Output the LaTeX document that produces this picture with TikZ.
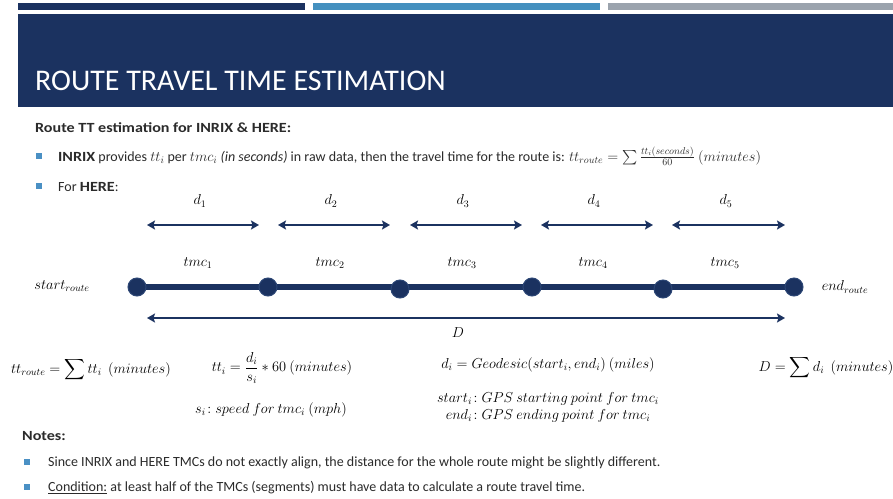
\documentclass[tikz,border=0pt]{standalone}
\usepackage{fontspec}
\setmainfont{Carlito}
\usepackage{amsmath}
\usetikzlibrary{arrows.meta,backgrounds}
\definecolor{navy}{HTML}{1B3260}
\definecolor{navyedge}{HTML}{2C4675}
\definecolor{barblue}{HTML}{4490BF}
\definecolor{bargray}{HTML}{9BA3AD}
\definecolor{bulletblue}{HTML}{4A90C4}
\definecolor{textgray}{HTML}{2B2B2B}
\newcommand\wbf[1]{\scalebox{1.15}[1]{\textbf{#1}}}
\tikzset{
  bodytext/.style={anchor=base west, inner sep=0, text=textgray, font=\fontsize{14}{16}\selectfont},
  mlabel/.style={inner sep=0, font=\fontsize{14}{16}\selectfont},
  fml/.style={inner sep=0, font=\fontsize{14}{17}\selectfont},
  dimarrow/.style={draw=navy, line width=2.2pt, {Stealth[length=8pt,width=9pt,inset=1.5pt]}-{Stealth[length=8pt,width=9pt,inset=1.5pt]}},
  routeline/.style={draw=navy, line width=6pt},
  stopdot/.style={circle, fill=navy, draw=navyedge, line width=1pt, minimum size=18pt, inner sep=0},
  bulletsq/.style={rectangle, fill=bulletblue, minimum size=6pt, inner sep=0}
}
\begin{document}
\begin{tikzpicture}[x=1pt,y=-1pt]
\useasboundingbox (0,0) rectangle (893,498);
% top bars
\fill[navy] (18,3) rectangle (305,10);
\fill[barblue] (313,3) rectangle (600,10);
\fill[bargray] (608,3) rectangle (893,10);
% banner
\fill[navy] (18,14) rectangle (893,107);
\node[anchor=base west, inner sep=0, text=white, font=\fontsize{30}{32}\selectfont] (title) at (35,90) {ROUTE TRAVEL TIME ESTIMATION};
% intro
\node[bodytext] (sub) at (35,132) {\wbf{Route TT estimation for INRIX \& HERE:}};
\node[bulletsq] (b1) at (39,156) {};
\node[bodytext] (l1) at (58,161) {\wbf{INRIX} provides $tt_i$ per $tmc_i$ \textit{(in seconds)} in raw data, then the travel time for the route is: $tt_{route}=\sum\frac{tt_i(seconds)}{60}\ (minutes)$};
\node[bulletsq] (b2) at (39,186) {};
\node[bodytext] (l2) at (58,191) {For \wbf{HERE}:};
% d labels and arrows
\foreach \i/\xa/\xb in {1/147/259, 2/278/390, 3/410/522, 4/541/653, 5/672/785}{
  \coordinate (da\i) at (\xa,225);
  \coordinate (db\i) at (\xb,225);
  \draw[dimarrow] (da\i) -- (db\i);
}
\node[mlabel] (d1) at (200,201) {$d_1$};
\node[mlabel] (d2) at (331,201) {$d_2$};
\node[mlabel] (d3) at (463,201) {$d_3$};
\node[mlabel] (d4) at (594,201) {$d_4$};
\node[mlabel] (d5) at (726,201) {$d_5$};
% tmc labels
\node[mlabel] (t1) at (198,263) {$tmc_1$};
\node[mlabel] (t2) at (330,263) {$tmc_2$};
\node[mlabel] (t3) at (462,263) {$tmc_3$};
\node[mlabel] (t4) at (593,263) {$tmc_4$};
\node[mlabel] (t5) at (725,263) {$tmc_5$};
% route
\node[stopdot] (s0) at (137,287) {};
\node[stopdot] (s1) at (268,287) {};
\node[stopdot] (s2) at (400,289) {};
\node[stopdot] (s3) at (532,287) {};
\node[stopdot] (s4) at (663,289) {};
\node[stopdot] (s5) at (794,287) {};
\begin{pgfonlayer}{background}
\fill[white] (0,0) rectangle (893,498);
\draw[routeline] (s0.center) -- (s5.center);
\end{pgfonlayer}
\node[mlabel] (start) at (62,286) {$start_{route}$};
\node[mlabel] (end) at (845,287) {$end_{route}$};
% D
\coordinate (Da) at (147,318);
\coordinate (Db) at (785,318);
\draw[dimarrow] (Da) -- (Db);
\node[mlabel] (Dl) at (458,333) {$D$};
% formulas
\node[fml] (f1) at (91,370) {$tt_{route}=\displaystyle\sum tt_i\ \ (minutes)$};
\node[fml] (f2) at (282,368) {$tt_i=\dfrac{d_i}{s_i}*60\ (minutes)$};
\node[fml] (f3) at (548,365) {$d_i=Geodesic(start_i,end_i)\ (miles)$};
\node[fml] (f4) at (826,368) {$D=\displaystyle\sum d_i\ \ (minutes)$};
\node[fml] (f5) at (271,410) {$s_i\!: speed\ for\ tmc_i\ (mph)$};
\node[fml, align=center] (f6) at (548,407) {$start_i\!: GPS\ starting\ point\ for\ tmc_i$\\$end_i\!: GPS\ ending\ point\ for\ tmc_i$};
% notes
\node[bodytext] (notes) at (22,440) {\wbf{Notes:}};
\node[bulletsq] (n1b) at (27,462) {};
\node[bodytext] (n1) at (48,466) {Since INRIX and HERE TMCs do not exactly align, the distance for the whole route might be slightly different.};
\node[bulletsq] (n2b) at (27,487) {};
\node[bodytext] (n2) at (48,491) {\underline{Condition:} at least half of the TMCs (segments) must have data to calculate a route travel time.};
\end{tikzpicture}
\end{document}
